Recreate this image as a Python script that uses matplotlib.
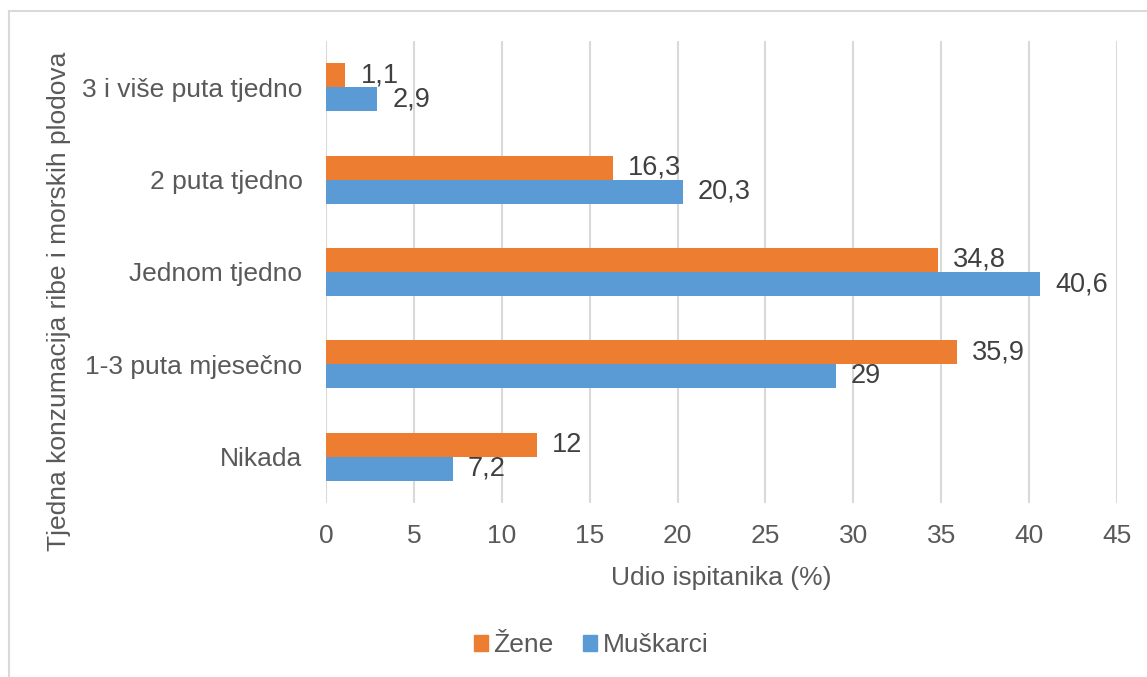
import matplotlib
matplotlib.use('Agg')
from matplotlib import pyplot as plt
from matplotlib.patches import Patch
import numpy as np

plt.rcParams['font.family'] = ['Liberation Sans', 'DejaVu Sans']

categories = ['Nikada', '1-3 puta mjesečno', 'Jednom tjedno', '2 puta tjedno', '3 i više puta tjedno']
zene = [12, 35.9, 34.8, 16.3, 1.1]
muskarci = [7.2, 29, 40.6, 20.3, 2.9]
series_names = ['Žene', 'Muškarci']
xticks = [0, 5, 10, 15, 20, 25, 30, 35, 40, 45]

orange = '#ED7D31'
blue = '#5B9BD5'
txt = '#595959'

def fmt(v):
    return ('%g' % v).replace('.', ',')

fig = plt.figure(figsize=(11.47, 6.77), dpi=100)
ax = fig.add_axes([326/1147, 1 - 503/677, (1117-326)/1147, (503-41)/677])

y = np.arange(len(categories))
h = 0.26
b1 = ax.barh(y + h/2, zene, height=h, color=orange, zorder=3)
b2 = ax.barh(y - h/2, muskarci, height=h, color=blue, zorder=3)

for bars, vals in [(b1, zene), (b2, muskarci)]:
    for bar, v in zip(bars, vals):
        ax.annotate(fmt(v), (v, bar.get_y() + bar.get_height()/2),
                    xytext=(11, 0), textcoords='offset points',
                    va='center', ha='left', fontsize=19.5, color='#404040')

ax.set_xlim(0, 45)
ax.set_ylim(-0.5, len(categories) - 0.5)
ax.set_xticks(xticks)
ax.set_yticks(y)
ax.set_yticklabels(categories)
ax.tick_params(axis='both', length=0, labelsize=19, colors=txt)
ax.tick_params(axis='x', pad=15)
ax.tick_params(axis='y', pad=17)
ax.grid(axis='x', color='#D9D9D9', linewidth=1.5, zorder=0)
for s in ax.spines.values():
    s.set_visible(False)

fig.text(721/1147, 1 - 578/677, 'Udio ispitanika (%)', ha='center', va='center',
         fontsize=19, color=txt)
fig.text(59/1147, 1 - 301/677, 'Tjedna konzumacija ribe i morskih plodova',
         rotation=90, ha='center', va='center', fontsize=19, color=txt)

handles = [Patch(color=orange), Patch(color=blue)]
fig.legend(handles, series_names, loc='center', bbox_to_anchor=(591/1147, 1 - 645/677),
           ncol=2, frameon=False, fontsize=19, handlelength=0.55, handleheight=0.55,
           handletextpad=0.2, columnspacing=1.1, labelcolor=txt)

# chart border (left and top edges visible)
fig.add_artist(plt.Line2D([8.5/1147, 8.5/1147], [0, 1 - 11/677], color='#D9D9D9', lw=1.5))
fig.add_artist(plt.Line2D([8.5/1147, 1], [1 - 11/677, 1 - 11/677], color='#D9D9D9', lw=1.5))

fig.savefig('out.png', dpi=100)
